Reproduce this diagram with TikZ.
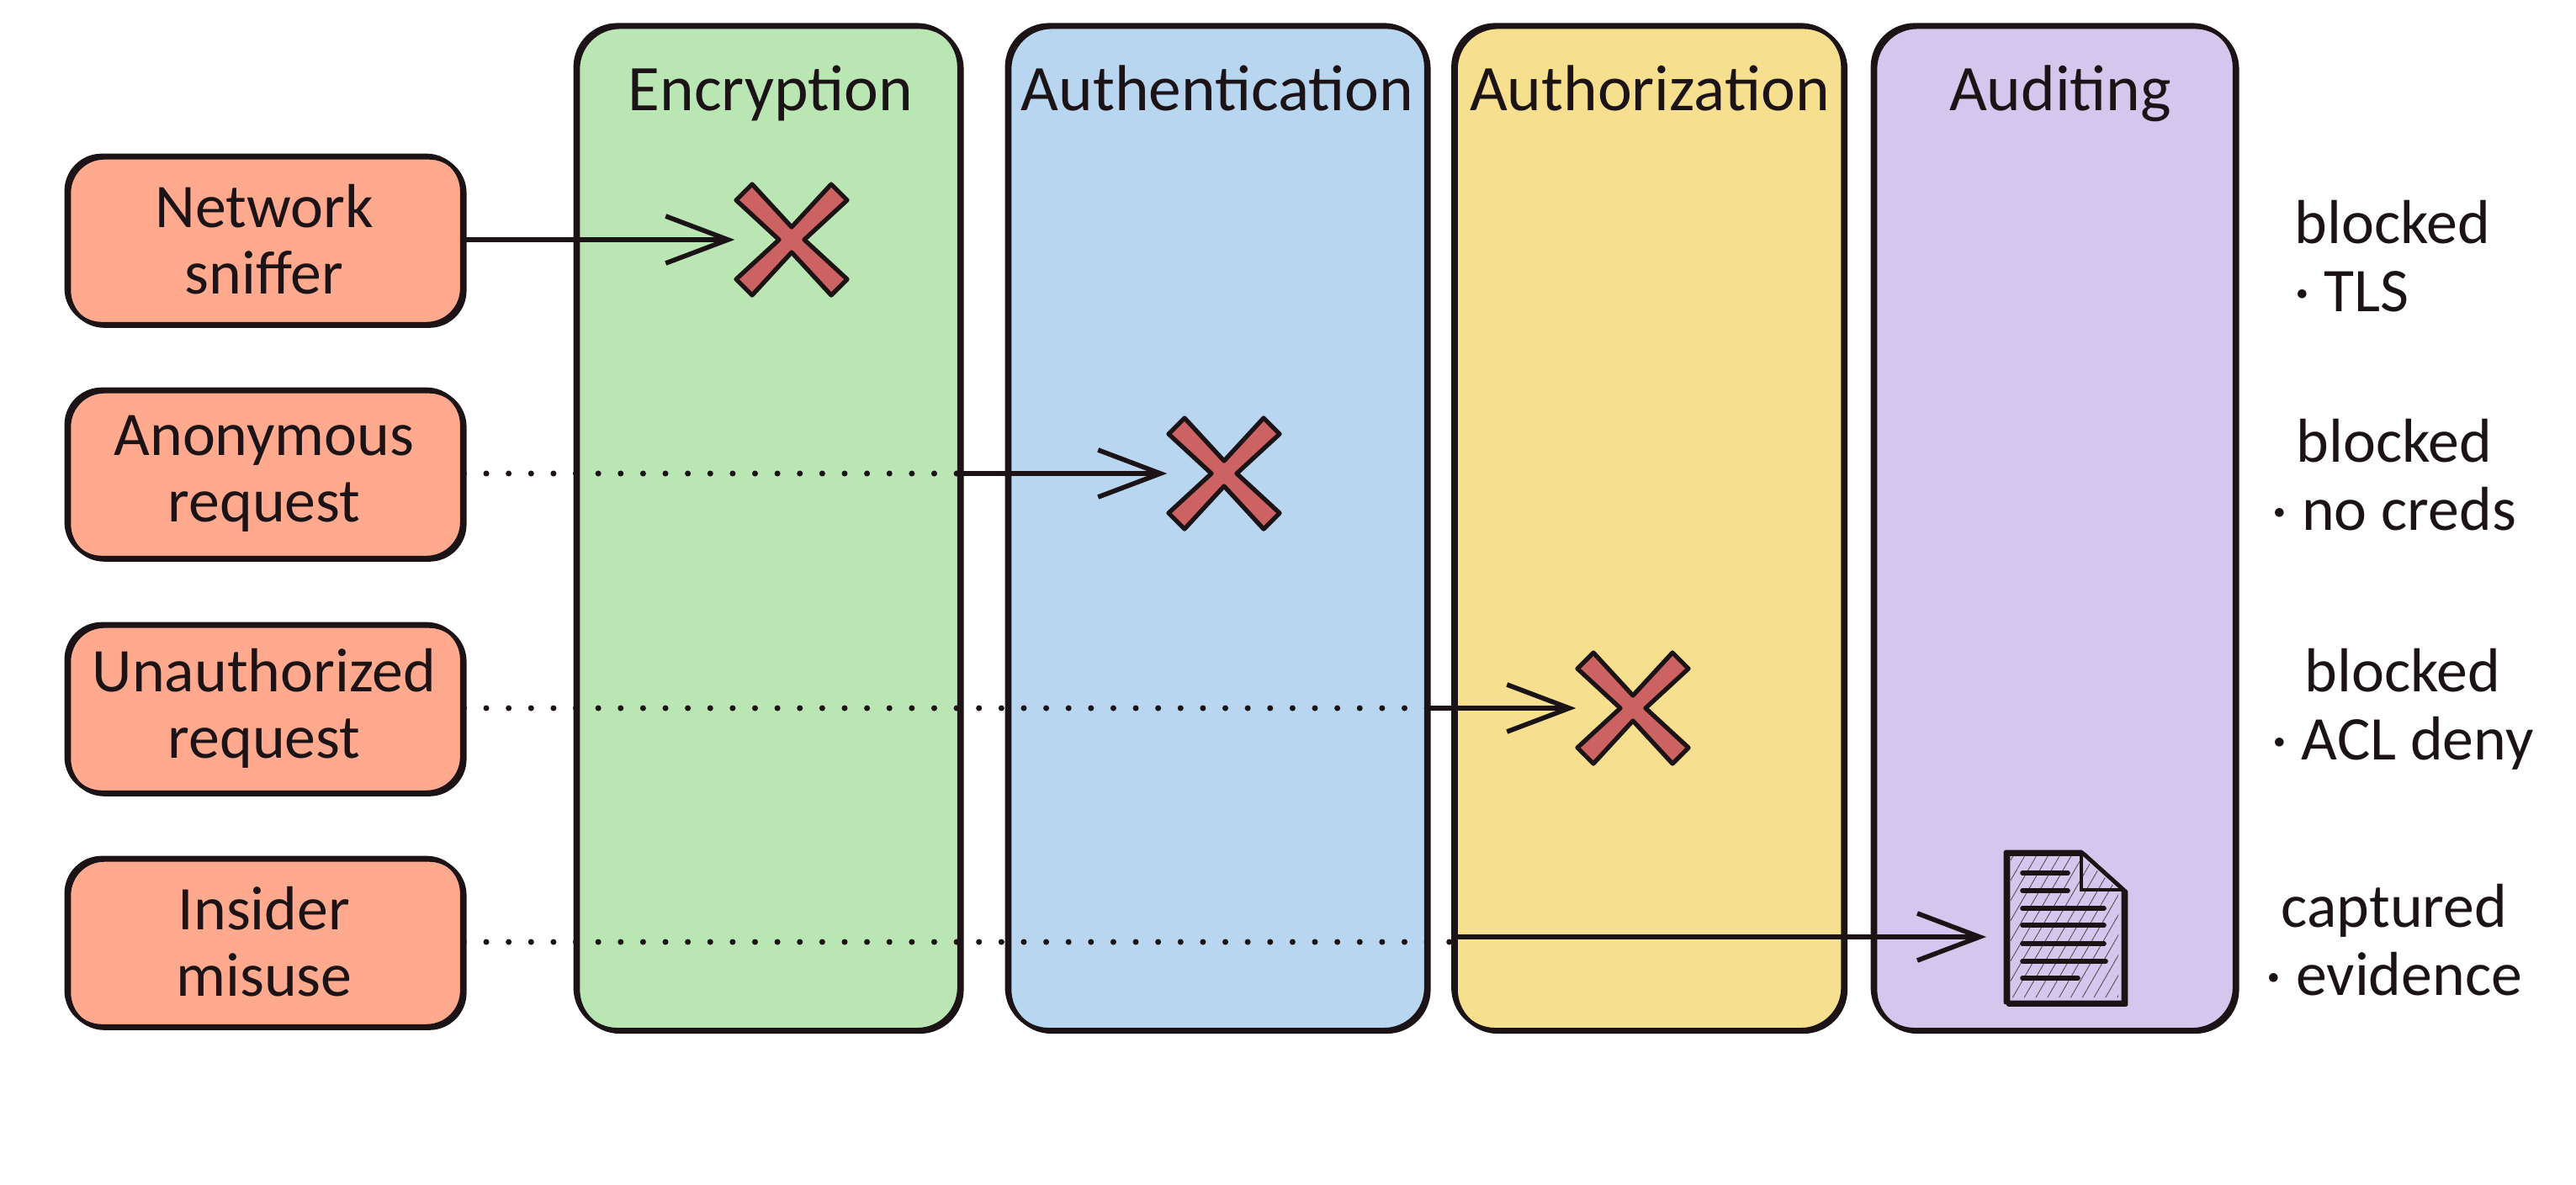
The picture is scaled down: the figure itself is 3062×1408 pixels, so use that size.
\documentclass[tikz,border=0pt]{standalone}
\usepackage{fontspec}
\setmainfont{Carlito}
\usetikzlibrary{positioning,arrows.meta,patterns.meta}

\definecolor{ink}{HTML}{1C1316}
\definecolor{threatfill}{HTML}{FFA98E}
\definecolor{encfill}{HTML}{BAE6B4}
\definecolor{authnfill}{HTML}{B8D6F0}
\definecolor{authzfill}{HTML}{F6DF8E}
\definecolor{auditfill}{HTML}{D5C6EE}
\definecolor{stopfill}{HTML}{CC6262}

\begin{document}
\begin{tikzpicture}[x=0.01cm,y=-0.01cm]
        % Define styles for nodes and edges
        \tikzset{
                sketch/.style={draw=ink, line width=1.3pt, postaction={draw=ink, transform canvas={shift={(0.9pt,-0.7pt)}}}},
                threat/.style={sketch, fill=threatfill, rounded corners=0.42cm, minimum width=4.7cm, minimum height=2.0cm, align=center, font=\fontsize{21}{22.5}\selectfont, text=ink},
                lane/.style={sketch, rounded corners=0.5cm, minimum height=11.94cm},
                lanetitle/.style={anchor=base, font=\fontsize{22}{26}\selectfont, text=ink},
                outcome/.style={align=center, font=\fontsize{21}{23}\selectfont, text=ink},
                stopbox/.style={minimum size=1.34cm, inner sep=0pt},
                passed/.style={draw=ink, line width=2pt, line cap=round, dash pattern=on 0pt off 7.57pt},
                flow/.style={draw=ink, line width=1.7pt, -{Straight Barb[length=0.74cm, width=0.56cm, line width=1.6pt]}},
                stopmark/.pic={\draw[draw=ink, line width=1.5pt, line join=round, fill=stopfill]
                        (-47,-66) -- (0,-15) -- (47,-66) -- (66,-47) -- (15,0) -- (66,47) -- (47,66)
                        -- (0,15) -- (-47,66) -- (-66,47) -- (-15,0) -- (-66,-47) -- cycle;}
        }

        \useasboundingbox (0,0) rectangle (3062,1408);

        % Lanes
        \node[lane, fill=encfill, minimum width=4.56cm] (encryption) at (912,627) {};
        \node[lane, fill=authnfill, minimum width=4.98cm] (authentication) at (1446,627) {};
        \node[lane, fill=authzfill, minimum width=4.63cm] (authorization) at (1959,627) {};
        \node[lane, fill=auditfill, minimum width=4.30cm] (auditing) at (2441,627) {};

        \node[lanetitle] (encryptiontitle) at (916,131) {Encryption};
        \node[lanetitle] (authenticationtitle) at (1447,131) {Authentication};
        \node[lanetitle] (authorizationtitle) at (1961,131) {Authorization};
        \node[lanetitle] (auditingtitle) at (2449,131) {Auditing};

        % Threats
        \node[threat] (sniffer) at (314,285) {Network\\sniffer};
        \node[threat] (anonymous) at (314,563) {Anonymous\\request};
        \node[threat] (unauthorized) at (314,842) {Unauthorized\\request};
        \node[threat] (insider) at (314,1120) {Insider\\misuse};

        % Stops
        \node[stopbox] (stopA) at (941,285) {};
        \node[stopbox] (stopB) at (1455,563) {};
        \node[stopbox] (stopC) at (1941,842) {};
        \pic at (stopA) {stopmark};
        \pic at (stopB) {stopmark};
        \pic at (stopC) {stopmark};

        % Evidence document
        \coordinate (evidence) at (2361,1114);
        \draw[sketch, fill=auditfill, line join=round] (2384,1013) -- (2474,1013) -- (2524,1058) -- (2524,1192) -- (2384,1192) -- cycle;
        \fill[pattern={Lines[angle=60, distance=3.4pt, line width=0.25pt]}, pattern color=ink!75] (2390,1018) -- (2474,1018) -- (2518,1058) -- (2518,1186) -- (2390,1186) -- cycle;
        \draw[draw=ink, line width=1.3pt] (2474,1013) -- (2474,1058) -- (2524,1058);
        \foreach \ypos/\xend in {1038/2458, 1059/2458, 1080/2501, 1100/2501, 1122/2501, 1143/2503, 1163/2470}
                \draw[draw=ink, line width=1.6pt, line cap=round] (2404,\ypos) -- (\xend,\ypos);

        % Arrows
        \draw[flow] (sniffer.east) -- (stopA.west);
        \draw[passed] (anonymous.east) -- (encryption.east |- anonymous);
        \draw[flow] (encryption.east |- anonymous) -- (stopB.west);
        \draw[passed] (unauthorized.east) -- (authentication.east |- unauthorized);
        \draw[flow] (authentication.east |- unauthorized) -- (stopC.west);
        \draw[passed] (insider.east) -- (authorization.west |- insider);
        \draw[flow] (authorization.west |- evidence) -- (evidence);

        % Outcomes
        \node[outcome, align=left] (outcomeA) at (2844,305) {blocked\\· TLS};
        \node[outcome] (outcomeB) at (2846,565) {blocked\\· no creds};
        \node[outcome] (outcomeC) at (2856,843) {blocked\\· ACL deny};
        \node[outcome] (outcomeD) at (2846,1118) {captured\\· evidence};
\end{tikzpicture}
\end{document}
